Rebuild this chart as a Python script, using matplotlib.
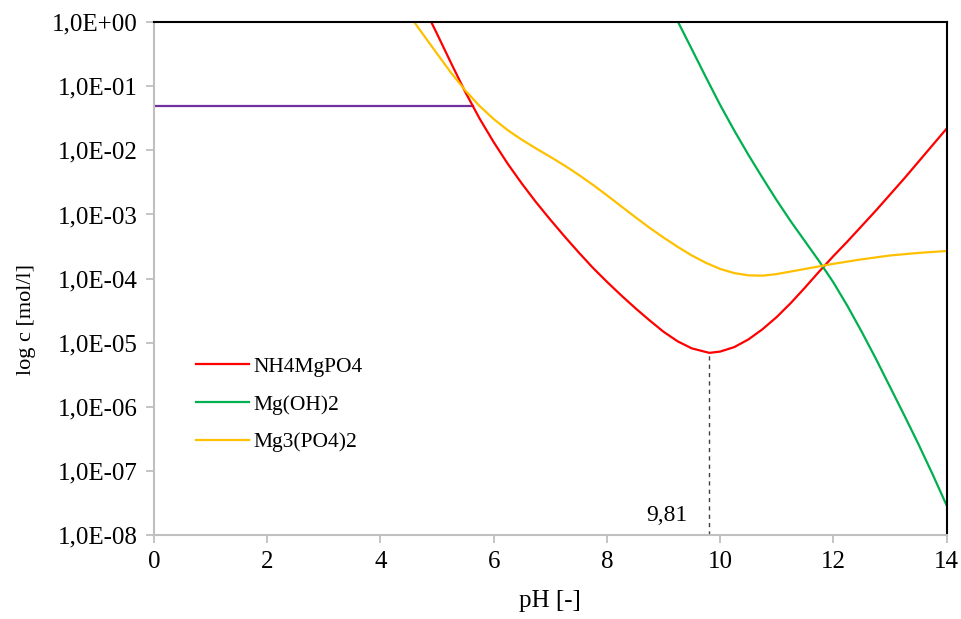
import matplotlib
matplotlib.use("Agg")
import matplotlib.pyplot as plt
import numpy as np

from matplotlib.ticker import FixedLocator, FuncFormatter, NullLocator

# values (pH, log10 c)
ph_nh4 = [4.9, 5.0, 5.25, 5.5, 5.75, 6.0, 6.25, 6.5, 6.75, 7.0, 7.25, 7.5, 7.75,
          8.0, 8.25, 8.5, 8.75, 9.0, 9.25, 9.5, 9.81, 10.0, 10.25, 10.5, 10.75,
          11.0, 11.25, 11.5, 11.75, 12.0, 12.25, 12.5, 12.75, 13.0, 13.25, 13.5,
          13.75, 14.0]
log_nh4 = [0.0, -0.18, -0.64, -1.09, -1.50, -1.87, -2.21, -2.52, -2.81, -3.08,
           -3.34, -3.59, -3.83, -4.05, -4.26, -4.46, -4.65, -4.83, -4.98, -5.09,
           -5.16, -5.14, -5.07, -4.95, -4.79, -4.60, -4.38, -4.14, -3.89, -3.65,
           -3.42, -3.18, -2.94, -2.69, -2.44, -2.18, -1.92, -1.66]

ph_mgoh = [9.26, 9.5, 9.75, 10.0, 10.25, 10.5, 10.75, 11.0, 11.25, 11.5, 11.75,
           12.0, 12.25, 12.5, 12.75, 13.0, 13.25, 13.5, 13.75, 14.0]
log_mgoh = [0.0, -0.42, -0.86, -1.29, -1.69, -2.07, -2.43, -2.78, -3.11, -3.42,
            -3.73, -4.06, -4.43, -4.83, -5.25, -5.69, -6.13, -6.58, -7.05, -7.54]

ph_mg3 = [4.6, 5.0, 5.25, 5.5, 5.75, 6.0, 6.25, 6.5, 6.75, 7.0, 7.25, 7.5, 7.75,
          8.0, 8.25, 8.5, 8.75, 9.0, 9.25, 9.5, 9.75, 10.0, 10.25, 10.5, 10.75,
          11.0, 11.25, 11.5, 11.75, 12.0, 12.5, 13.0, 13.5, 14.0]
log_mg3 = [0.0, -0.49, -0.79, -1.065, -1.305, -1.51, -1.685, -1.835, -1.97, -2.10,
           -2.235, -2.38, -2.535, -2.70, -2.87, -3.04, -3.205, -3.36, -3.505, -3.64,
           -3.755, -3.85, -3.915, -3.95, -3.955, -3.93, -3.89, -3.85, -3.81, -3.77,
           -3.70, -3.64, -3.60, -3.57]

ph_limit = [0.0, 5.63]
c_limit = [0.05, 0.05]

ph_min = 9.81
c_min = 10 ** -5.16

plt.rcParams["font.family"] = ["Liberation Serif", "DejaVu Serif"]

fig, ax = plt.subplots(figsize=(9.62, 6.19), dpi=100)
fig.subplots_adjust(left=0.160, right=0.984, top=0.964, bottom=0.136)

ax.plot(ph_limit, c_limit, color="#7030A0", linewidth=1.6)
ax.plot(ph_nh4, 10 ** np.array(log_nh4), color="#FF0000", linewidth=1.6, label="NH4MgPO4")
ax.plot(ph_mgoh, 10 ** np.array(log_mgoh), color="#00B050", linewidth=1.6, label="Mg(OH)2")
ax.plot(ph_mg3, 10 ** np.array(log_mg3), color="#FFC000", linewidth=1.6, label="Mg3(PO4)2")

ax.plot([ph_min, ph_min], [1e-8, c_min], color="#404040", linewidth=1.0, linestyle=(0, (3, 3)))
ax.text(ph_min - 0.38, 1.35e-8, "9,81", ha="right", va="bottom", fontsize=17)

ax.set_yscale("log")
ax.set_xlim(0, 14)
ax.set_ylim(1e-8, 1)
ax.xaxis.set_major_locator(FixedLocator(np.arange(0, 15, 2)))
ax.yaxis.set_major_locator(FixedLocator([10.0 ** e for e in range(-8, 1)]))
ax.yaxis.set_minor_locator(NullLocator())
ax.yaxis.set_major_formatter(FuncFormatter(lambda v, p: "1,0E%+03d" % int(round(np.log10(v)))))

for side in ["left", "bottom"]:
    ax.spines[side].set_color("#BFBFBF")
    ax.spines[side].set_linewidth(1.5)
for side in ["top", "right"]:
    ax.spines[side].set_color("black")
    ax.spines[side].set_linewidth(1.5)
ax.tick_params(axis="both", which="major", direction="out", length=6, width=1.3,
               color="#BFBFBF", labelsize=18, pad=6)

ax.set_xlabel("pH [-]", fontsize=18)
ax.set_ylabel("log c [mol/l]", fontsize=16)
ax.xaxis.set_label_coords(0.5, -0.107)
ax.yaxis.set_label_coords(-0.149, 0.42)

ax.legend(loc="upper left", bbox_to_anchor=(0.029, 0.385), frameon=False, fontsize=15.5,
          handlelength=2.45, handletextpad=0.2, labelspacing=0.82)

plt.savefig("out.png", dpi=100)
